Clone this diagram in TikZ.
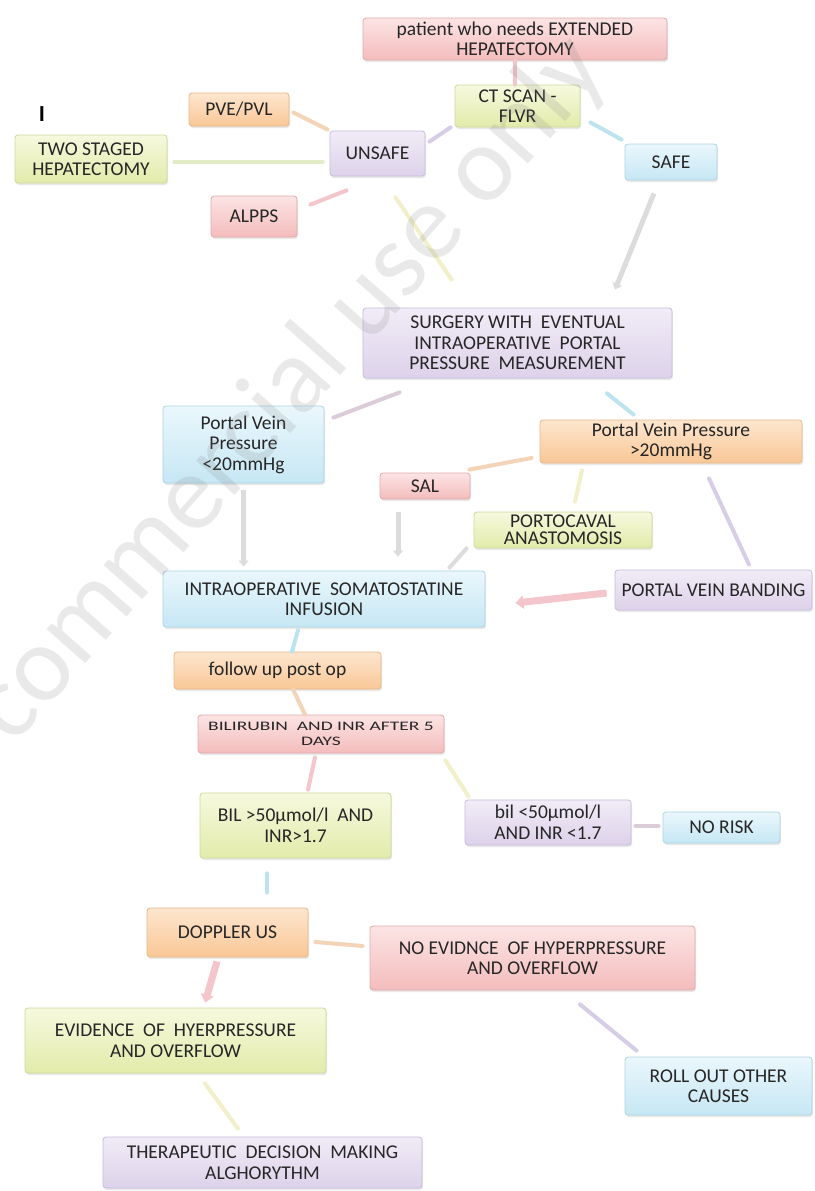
\documentclass[tikz,border=0pt]{standalone}
\usepackage{fontspec}
\setmainfont{Carlito}
\newfontfamily\widefont{Carlito}[FakeStretch=1.5]
\usetikzlibrary{calc, shadows, arrows.meta}

\definecolor{pinktop}{HTML}{FCE4E4}
\definecolor{pinkbot}{HTML}{F4BCBC}
\definecolor{pinkline}{HTML}{E2AAAA}
\definecolor{greentop}{HTML}{F6F9DE}
\definecolor{greenbot}{HTML}{E2EBAA}
\definecolor{greenline}{HTML}{CFD89C}
\definecolor{orangetop}{HTML}{FDE6CF}
\definecolor{orangebot}{HTML}{F9C796}
\definecolor{orangeline}{HTML}{E9B888}
\definecolor{purpletop}{HTML}{F1ECF7}
\definecolor{purplebot}{HTML}{DDD2EA}
\definecolor{purpleline}{HTML}{C9BCDB}
\definecolor{bluetop}{HTML}{EAF7FC}
\definecolor{bluebot}{HTML}{C6E7F4}
\definecolor{blueline}{HTML}{AED4E3}
\definecolor{lnpink}{HTML}{F4C6CC}
\definecolor{lnpurple}{HTML}{D6CDE6}
\definecolor{lnblue}{HTML}{BDE3EE}
\definecolor{lnorange}{HTML}{F4D4B8}
\definecolor{lngreen}{HTML}{E4EBC7}
\definecolor{lnyellow}{HTML}{F2EFCB}
\definecolor{lngray}{HTML}{DCDCDC}
\definecolor{lnmauve}{HTML}{DCCBD8}

\begin{document}
\begin{tikzpicture}
            [x=1pt, y=-1pt, font=\fontsize{19.5}{20.5}\selectfont,
             box/.style={rounded corners=3pt, inner sep=0pt, align=center, text=black!85, line width=0.8pt,
                         drop shadow={opacity=0.18, shadow xshift=1pt, shadow yshift=-2pt}},
             pinkbox/.style={box, draw=pinkline, top color=pinktop, bottom color=pinkbot},
             greenbox/.style={box, draw=greenline, top color=greentop, bottom color=greenbot},
             orangebox/.style={box, draw=orangeline, top color=orangetop, bottom color=orangebot},
             purplebox/.style={box, draw=purpleline, top color=purpletop, bottom color=purplebot},
             bluebox/.style={box, draw=blueline, top color=bluetop, bottom color=bluebot},
             link/.style={line width=4pt, line cap=round},
             arrowlink/.style={line width=5pt, -{Triangle[width=10pt, length=6pt]}},
             bigarrow/.style={line width=7pt, -{Triangle[width=13pt, length=8pt]}}]
            \fill[white] (0, 0) rectangle (814, 1191);
            \useasboundingbox (0, 0) rectangle (814, 1191);

            \node[pinkbox, minimum width=304pt, minimum height=42pt] (patient) at (515, 39) {patient who needs EXTENDED\\HEPATECTOMY};
            \node[greenbox, minimum width=125pt, minimum height=42pt] (ct) at (517.5, 106) {CT SCAN -\\FLVR};
            \node[orangebox, minimum width=100pt, minimum height=33pt] (pve) at (239, 109.5) {PVE/PVL};
            \node[purplebox, minimum width=95pt, minimum height=45pt] (unsafe) at (377.5, 153.5) {UNSAFE};
            \node[greenbox, minimum width=152pt, minimum height=48pt] (two) at (91, 159) {TWO STAGED\\HEPATECTOMY};
            \node[bluebox, minimum width=92pt, minimum height=36pt] (safe) at (671, 162) {SAFE};
            \node[pinkbox, minimum width=86pt, minimum height=41pt] (alpps) at (254, 216.5) {ALPPS};
            \node[font=\fontsize{23}{23}\bfseries] (mark) at (42, 114) {I};

            \node[purplebox, minimum width=309pt, minimum height=70pt] (surgery) at (517.5, 343) {SURGERY WITH\ \ EVENTUAL\\INTRAOPERATIVE\ \ PORTAL\\PRESSURE\ \ MEASUREMENT};
            \node[bluebox, minimum width=161pt, minimum height=77pt] (low) at (243.5, 444.5) {Portal Vein\\Pressure\\<20mmHg};
            \node[orangebox, minimum width=262pt, minimum height=43pt] (high) at (671, 441.5) {Portal Vein Pressure\\>20mmHg};
            \node[pinkbox, minimum width=90pt, minimum height=26pt] (sal) at (425, 486) {SAL};
            \node[greenbox, minimum width=178pt, minimum height=36pt, font=\fontsize{19.5}{17}\selectfont] (porto) at (563, 530) {PORTOCAVAL\\ANASTOMOSIS};
            \node[purplebox, minimum width=197pt, minimum height=40pt] (banding) at (713.5, 590) {PORTAL VEIN BANDING};
            \node[bluebox, minimum width=322pt, minimum height=56pt] (somato) at (324, 599) {INTRAOPERATIVE\ \ SOMATOSTATINE\\INFUSION};

            \node[orangebox, minimum width=207pt, minimum height=37pt] (follow) at (277.5, 670.5) {follow up post op};
            \node[pinkbox, minimum width=246pt, minimum height=38pt, font=\widefont\fontsize{13}{15}\selectfont] (bili) at (321, 734) {BILIRUBIN\ \ AND INR AFTER 5\\DAYS};
            \node[greenbox, minimum width=191pt, minimum height=65pt] (bilhigh) at (295.5, 825.5) {BIL >50µmol/l\ \ AND\\INR>1.7};
            \node[purplebox, minimum width=166pt, minimum height=45pt] (billow) at (548, 822.5) {bil <50µmol/l\\AND INR <1.7};
            \node[bluebox, minimum width=117pt, minimum height=31pt] (norisk) at (721.5, 827.5) {NO RISK};

            \node[orangebox, minimum width=161pt, minimum height=49pt] (doppler) at (227.5, 932.5) {DOPPLER US};
            \node[pinkbox, minimum width=325pt, minimum height=64pt] (noevid) at (532.5, 958) {NO EVIDNCE\ \ OF HYPERPRESSURE\\AND OVERFLOW};
            \node[greenbox, minimum width=301pt, minimum height=65pt] (evid) at (175.5, 1040.5) {EVIDENCE\ \ OF\ \ HYERPRESSURE\\AND OVERFLOW};
            \node[bluebox, minimum width=187pt, minimum height=58pt] (roll) at (718.5, 1086) {ROLL OUT OTHER\\CAUSES};
            \node[purplebox, minimum width=319pt, minimum height=51pt] (thera) at (262.5, 1162.5) {THERAPEUTIC\ \ DECISION\ \ MAKING\\ALGHORYTHM};

            % top part
            \path (patient.south) edge [link, draw=lnpink] (patient.south |- ct.north);
            \path ($(ct.south west)+(-4, 0)$) edge [link, draw=lnpurple] ($(unsafe.north east)+(4, 11)$);
            \path ($(ct.south east)+(10, -5)$) edge [link, draw=lnblue] ($(safe.north west)+(-3, -4)$);
            \path ($(pve.east)+(4, 3)$) edge [link, draw=lnorange] ($(unsafe.north west)+(-2, -1)$);
            \path ($(two.east)+(7, 3)$) edge [link, draw=lngreen] ($(unsafe.west)+(-7, 8.5)$);
            \path ($(unsafe.south west)+(17, 14)$) edge [link, draw=lnpink] ($(alpps.north east)+(13, 9)$);
            \path ($(unsafe.south)+(18, 21)$) edge [link, draw=lnyellow] ($(surgery.north west)+(89, -28)$);
            \path ($(safe.south)+(-17, 13)$) edge [arrowlink, draw=lngray] ($(surgery.north)+(97.5, -18)$);

            % surgery and portal pressure
            \path ($(surgery.south west)+(37, 14)$) edge [link, draw=lnmauve] ($(low.north east)+(9, 12)$);
            \path ($(surgery.south)+(89.5, 15)$) edge [link, draw=lnblue] ($(high.north west)+(94, -5)$);
            \path ($(low.south)+(0, 7)$) edge [arrowlink, draw=lngray] ($(low.south |- somato.north)+(0, -4)$);
            \path ($(high.west)+(-8, 16.5)$) edge [link, draw=lnorange] ($(sal.north east)+(-1, -3)$);
            \path ($(sal.south)+(-27, 13)$) edge [arrowlink, draw=lngray] ($(somato.north)+(74, -14)$);
            \path ($(high.south)+(-89, 7)$) edge [link, draw=lnyellow] ($(porto.north)+(12, -10)$);
            \path ($(porto.south west)+(-7, 0)$) edge [link, draw=lngray] ($(somato.north east)+(-36, -3)$);
            \path ($(high.south)+(38, 15)$) edge [link, draw=lnpurple] ($(banding.north)+(35.5, -5)$);
            \path ($(banding.west)+(-8, 3)$) edge [bigarrow, draw=lnpink] ($(somato.east)+(30, 4)$);

            % post op
            \path ($(somato.south)+(-26, 3)$) edge [link, draw=lnblue] ($(follow.north)+(14.5, 0)$);
            \path ($(follow.south)+(15.5, 0)$) edge [link, draw=lnorange] ($(bili.north)+(-16, 0)$);
            \path ($(bili.south)+(-6, 4)$) edge [link, draw=lnpink] ($(bilhigh.north)+(12.5, -3)$);
            \path ($(bili.south east)+(1, 7)$) edge [link, draw=lnyellow] ($(billow.north west)+(4, -3)$);
            \path ($(billow.east)+(4, 3.5)$) edge [link, draw=lnmauve] ($(norisk.west)+(-4, -1.5)$);
            \path ($(bilhigh.south)+(-28.5, 15)$) edge [link, draw=lnblue] ($(doppler.north)+(39.5, -15)$);
            \path ($(doppler.east)+(7, 9.5)$) edge [link, draw=lnorange] ($(noevid.west)+(-7, -12)$);
            \path ($(doppler.south)+(-10.5, 4)$) edge [bigarrow, draw=lnpink] ($(evid.north)+(29.5, -5)$);
            \path ($(evid.south)+(29.5, 10)$) edge [link, draw=lnyellow] ($(thera.north)+(-24.5, -8)$);
            \path ($(noevid.south)+(47.5, 14)$) edge [link, draw=lnpurple] ($(roll.north west)+(12, -6)$);

            \node[rotate=48.5, text=gray, opacity=0.17, font=\fontsize{108}{108}\selectfont] (watermark) at (290, 390) {commercial use only};
        \end{tikzpicture}
\end{document}
